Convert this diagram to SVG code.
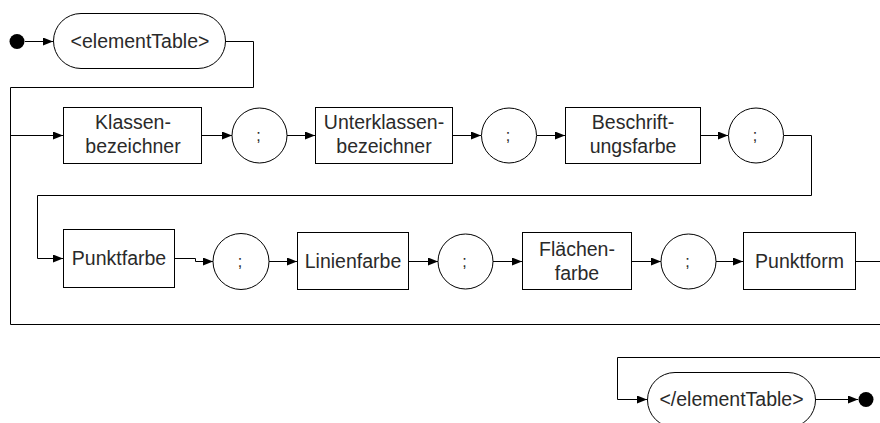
<svg xmlns="http://www.w3.org/2000/svg" width="880" height="423" viewBox="0 0 880 423">
  <defs>
    <marker id="arrow" markerWidth="10" markerHeight="8" refX="10" refY="4" orient="auto" markerUnits="userSpaceOnUse">
      <path d="M0,0 L10,4 L0,8 Z" fill="#000"/>
    </marker>
    <style>
      .box { fill: #fff; stroke: #000; stroke-width: 1; }
      .term { fill: #fff; stroke: #000; stroke-width: 1; }
      .lbl { font-family: "Liberation Sans", Arial, sans-serif; font-size: 19.5px; fill: #2a2a2a; text-anchor: middle; }
      .semi { font-family: "Liberation Sans", Arial, sans-serif; font-size: 16px; fill: #2a2a2a; text-anchor: middle; }
      .wire { fill: none; stroke: #000; stroke-width: 1; }
      .arr { marker-end: url(#arrow); }
      .dot { fill: #000; }
    </style>
  </defs>
  <rect width="880" height="423" fill="#fff"/>

  <!-- connectors -->
  <g id="connectors">
    <path class="wire arr" d="M25,41.5 H53"/>
    <path class="wire" d="M226,41.5 H253.5 V87.5 H10.5 V324.5 H880"/>
    <path class="wire arr" d="M10.5,135.5 H63"/>
    <path class="wire arr" d="M202,135.5 H232"/>
    <path class="wire arr" d="M287,135.5 H315"/>
    <path class="wire arr" d="M453,135.5 H481"/>
    <path class="wire arr" d="M537,135.5 H565"/>
    <path class="wire arr" d="M701,135.5 H728"/>
    <path class="wire arr" d="M784,135.5 H811.5 V195.5 H37.5 V258.5 H63"/>
    <path class="wire arr" d="M175,258.5 H195.5 V261.5 H213"/>
    <path class="wire arr" d="M269,261.5 H297"/>
    <path class="wire arr" d="M409,261.5 H438"/>
    <path class="wire arr" d="M493,261.5 H522"/>
    <path class="wire arr" d="M632,261.5 H661"/>
    <path class="wire arr" d="M716,261.5 H743"/>
    <path class="wire" d="M856,261.5 H880"/>
    <path class="wire arr" d="M880,357.5 H617.5 V399.5 H647"/>
    <path class="wire arr" d="M816,399.5 H858"/>
  </g>

  <!-- start and end points -->
  <g id="start"><circle class="dot" cx="17" cy="41.5" r="7.5"/></g>
  <g id="end"><circle class="dot" cx="866" cy="399.5" r="7.5"/></g>

  <g id="elementTableOpen">
    <rect class="term" x="53.5" y="13.5" width="172" height="55" rx="27.5" ry="27.5"/>
    <text class="lbl" x="140" y="47.5">&lt;elementTable&gt;</text>
  </g>

  <g id="klassenbezeichner">
    <rect class="box" x="63.5" y="107.5" width="138" height="56"/>
    <text class="lbl" x="133" y="129">Klassen-</text>
    <text class="lbl" x="133" y="153">bezeichner</text>
  </g>
  <g id="sep1">
    <circle class="term" cx="259.5" cy="135.5" r="27.5"/>
    <text class="semi" x="258.5" y="141">;</text>
  </g>
  <g id="unterklassenbezeichner">
    <rect class="box" x="315.5" y="107.5" width="137" height="56"/>
    <text class="lbl" x="384" y="129">Unterklassen-</text>
    <text class="lbl" x="384" y="153">bezeichner</text>
  </g>
  <g id="sep2">
    <circle class="term" cx="509" cy="135.5" r="27.5"/>
    <text class="semi" x="508" y="141">;</text>
  </g>
  <g id="beschriftungsfarbe">
    <rect class="box" x="565.5" y="107.5" width="135" height="56"/>
    <text class="lbl" x="633" y="129">Beschrift-</text>
    <text class="lbl" x="633" y="153">ungsfarbe</text>
  </g>
  <g id="sep3">
    <circle class="term" cx="756" cy="135.5" r="27.5"/>
    <text class="semi" x="755" y="141">;</text>
  </g>

  <g id="punktfarbe">
    <rect class="box" x="63.5" y="229.5" width="111" height="58"/>
    <text class="lbl" x="119" y="265">Punktfarbe</text>
  </g>
  <g id="sep4">
    <circle class="term" cx="241" cy="261.5" r="28"/>
    <text class="semi" x="240" y="267">;</text>
  </g>
  <g id="linienfarbe">
    <rect class="box" x="297.5" y="232.5" width="111" height="57"/>
    <text class="lbl" x="353" y="268">Linienfarbe</text>
  </g>
  <g id="sep5">
    <circle class="term" cx="465.5" cy="261.5" r="27.5"/>
    <text class="semi" x="464.5" y="267">;</text>
  </g>
  <g id="flaechenfarbe">
    <rect class="box" x="522.5" y="232.5" width="109" height="57"/>
    <text class="lbl" x="577" y="256">Flächen-</text>
    <text class="lbl" x="577" y="280">farbe</text>
  </g>
  <g id="sep6">
    <circle class="term" cx="688.5" cy="261.5" r="27.5"/>
    <text class="semi" x="687.5" y="267">;</text>
  </g>
  <g id="punktform">
    <rect class="box" x="743.5" y="232.5" width="112" height="57"/>
    <text class="lbl" x="799.5" y="268">Punktform</text>
  </g>

  <g id="elementTableClose">
    <rect class="term" x="647.5" y="372.5" width="168" height="55" rx="27.5" ry="27.5"/>
    <text class="lbl" x="731.5" y="406">&lt;/elementTable&gt;</text>
  </g>
</svg>
